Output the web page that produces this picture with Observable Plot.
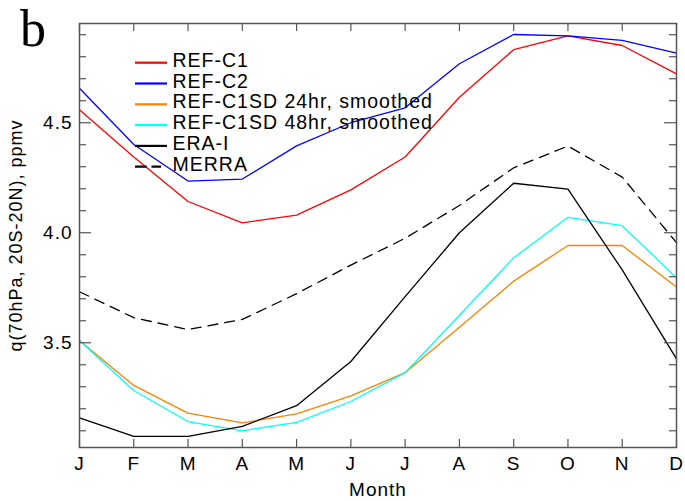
<!DOCTYPE html>
<html>
<head>
<meta charset="utf-8">
<script src="https://cdn.jsdelivr.net/npm/d3@7"></script>
<script src="https://cdn.jsdelivr.net/npm/@observablehq/plot@0.6"></script>
<style>
  html, body { margin: 0; padding: 0; background: #fff; }
  #wrap { position: relative; width: 685px; height: 501px; }
  #panel { position: absolute; left: 20px; top: 3px; font-family: "Liberation Serif", serif; font-size: 52px; line-height: 1; }
  #legend { position: absolute; left: 0; top: 0; }
</style>
</head>
<body>
<div id="wrap"></div>
<script>
// ---- data ----
const months = ["J","F","M","A","M","J","J","A","S","O","N","D"];
const refC1      = [4.559, 4.344, 4.142, 4.045, 4.080, 4.195, 4.344, 4.616, 4.832, 4.895, 4.851, 4.722];
const refC2      = [4.657, 4.401, 4.235, 4.244, 4.395, 4.500, 4.568, 4.768, 4.901, 4.895, 4.874, 4.816];
const refC1SD24  = [3.510, 3.306, 3.180, 3.136, 3.177, 3.259, 3.364, 3.571, 3.780, 3.942, 3.942, 3.753];
const refC1SD48  = [3.510, 3.283, 3.142, 3.100, 3.138, 3.233, 3.364, 3.625, 3.886, 4.070, 4.032, 3.795];
const eraI       = [3.159, 3.075, 3.075, 3.120, 3.214, 3.415, 3.710, 4.000, 4.225, 4.198, 3.831, 3.427];
const merra      = [3.732, 3.614, 3.560, 3.606, 3.723, 3.853, 3.975, 4.124, 4.295, 4.394, 4.253, 3.955];
const seriesNames = ["REF-C1", "REF-C2", "REF-C1SD 24hr, smoothed", "REF-C1SD 48hr, smoothed", "ERA-I", "MERRA"];
const seriesColors = ["#ff0000", "#0000ff", "#ff8000", "#00ffff", "#000000", "#000000"];
const seriesDash = [null, null, null, null, null, "10,7"];
const seriesValues = [refC1, refC2, refC1SD24, refC1SD48, eraI, merra];
const yMajor = [3.5, 4.0, 4.5];
const yMinor = [3.1,3.2,3.3,3.4,3.6,3.7,3.8,3.9,4.1,4.2,4.3,4.4,4.6,4.7,4.8,4.9];

const idx = d3.range(months.length);
const W = 685, H = 501, mL = 79, mR = 9, mT = 23, mB = 54;
const pw = W - mL - mR, ph = H - mT - mB;
const axisColor = "#555";

const lineMarks = seriesValues.map((vals, s) =>
  Plot.line(idx.map(i => ({i, v: vals[i]})), {
    x: "i", y: "v", stroke: seriesColors[s], strokeWidth: 1.3,
    strokeDasharray: seriesDash[s] ?? undefined
  })
);

const chart = Plot.plot({
  width: W, height: H,
  marginLeft: mL, marginRight: mR, marginTop: mT, marginBottom: mB,
  style: { fontFamily: "'Liberation Sans', Arial, sans-serif", fontSize: "19px", letterSpacing: "1px", color: "#000", background: "#fff" },
  x: { domain: [0, 11] },
  y: { domain: [3.024, 4.951] },
  marks: [
    ...lineMarks,
    // inward ticks
    Plot.tickX(idx, { x: d => d, insetTop: ph - 8, stroke: axisColor, strokeWidth: 1.2 }),
    Plot.tickX(idx, { x: d => d, insetBottom: ph - 8, stroke: axisColor, strokeWidth: 1.2 }),
    Plot.tickY(yMinor, { y: d => d, insetRight: pw - 7, stroke: axisColor, strokeWidth: 1.2 }),
    Plot.tickY(yMajor, { y: d => d, insetRight: pw - 12, stroke: axisColor, strokeWidth: 1.2 }),
    Plot.tickY(yMinor, { y: d => d, insetLeft: pw - 7, stroke: axisColor, strokeWidth: 1.2 }),
    Plot.tickY(yMajor, { y: d => d, insetLeft: pw - 12, stroke: axisColor, strokeWidth: 1.2 }),
    Plot.frame({ stroke: axisColor, strokeWidth: 1.5 }),
    Plot.axisY(yMajor, { tickSize: 0, tickPadding: 7, tickFormat: d3.format(".1f"), label: null }),
    Plot.axisY([], { tickSize: 0, fontSize: 18,
      label: "q(70hPa, 20S-20N), ppmv", labelAnchor: "center", labelOffset: 70, labelArrow: "none" }),
    Plot.axisX(idx, { tickSize: 0, tickPadding: 9, tickFormat: i => months[i],
      label: "Month", labelAnchor: "center", labelOffset: 48, labelArrow: "none" })
  ]
});

const wrap = document.getElementById("wrap");
wrap.appendChild(chart);

// panel letter
const panel = document.createElement("div");
panel.id = "panel";
panel.textContent = "b";
wrap.appendChild(panel);

// legend (inside plot, top-left)
const ns = "http://www.w3.org/2000/svg";
const leg = document.createElementNS(ns, "svg");
leg.setAttribute("id", "legend");
leg.setAttribute("width", 460);
leg.setAttribute("height", 180);
const rowY0 = 62.7, rowStep = 20.8;
seriesNames.forEach((name, s) => {
  const y = rowY0 + s * rowStep;
  const ln = document.createElementNS(ns, "line");
  ln.setAttribute("x1", 135); ln.setAttribute("x2", seriesDash[s] ? 161 : 167);
  ln.setAttribute("y1", y); ln.setAttribute("y2", y);
  ln.setAttribute("stroke", seriesColors[s]);
  ln.setAttribute("stroke-width", 2.2);
  if (seriesDash[s]) ln.setAttribute("stroke-dasharray", "11.5,5");
  leg.appendChild(ln);
  const tx = document.createElementNS(ns, "text");
  tx.setAttribute("x", 172.5);
  tx.setAttribute("y", y + 4);
  tx.setAttribute("font-family", "'Liberation Sans', Arial, sans-serif");
  tx.setAttribute("font-size", "19.5px");
  tx.setAttribute("letter-spacing", "1px");
  tx.setAttribute("fill", "#000");
  tx.textContent = name;
  leg.appendChild(tx);
});
wrap.appendChild(leg);
</script>
</body>
</html>
